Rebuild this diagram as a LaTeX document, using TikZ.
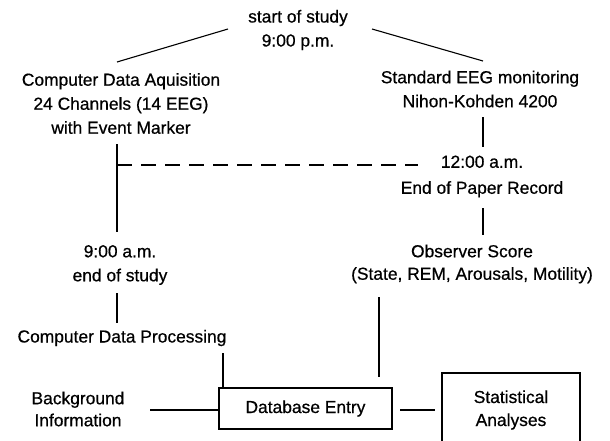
\documentclass[tikz,border=0pt]{standalone}
\usepackage{fontspec}
\setmainfont[BoldFont={Liberation Sans},BoldFeatures={FakeBold=0.6}]{Liberation Sans}
\begin{document}
\begin{tikzpicture}[x=1pt,y=-1pt,
  txt/.style={inner sep=0pt,align=center,font=\fontsize{17.4}{24}\selectfont\bfseries},
  ln/.style={line width=1.1pt},
  boxn/.style={draw,line width=1.1pt,inner sep=0pt}]
\useasboundingbox (0,0) rectangle (610,440);
\clip (0,0) rectangle (610,440);
\node[txt] (start) at (298,30) {start of study\\9:00 p.m.};
\node[txt] (cda) at (121,103.5) {Computer Data Aquisition\\24 Channels (14 EEG)\\with Event Marker};
\node[txt] (eeg) at (480,89) {Standard EEG monitoring\\Nihon-Kohden 4200};
\node[txt,font=\fontsize{17.4}{26}\selectfont\bfseries] (mid) at (482,176.5) {12:00 a.m.\\End of Paper Record};
\node[txt] (endst) at (120,265) {9:00 a.m.\\end of study};
\node[txt,font=\fontsize{17.4}{22.5}\selectfont\bfseries] (obs) at (472,264) {Observer Score\\(State, REM, Arousals, Motility)};
\node[txt] (cdp) at (122,338) {Computer Data Processing};
\node[txt,font=\fontsize{17.4}{22}\selectfont\bfseries] (bg) at (78,409) {Background\\Information};
\node[boxn,minimum width=173pt,minimum height=41pt,txt] (db) at (305.5,408.5) {Database Entry};
\node[boxn,minimum width=138pt,minimum height=74pt,txt,font=\fontsize{17.4}{23}\selectfont\bfseries] (st) at (511,410) {Statistical\\Analyses};
% connectors
\coordinate (sl) at (228,29);
\coordinate (cl) at (117,62);
\coordinate (sr) at (372,29);
\coordinate (cr) at (483,61);
\draw[ln] (sl) -- (cl);
\draw[ln] (sr) -- (cr);
\coordinate (a1) at (117,144);
\coordinate (a2) at (117,232);
\draw[ln] (a1) -- (a2);
\coordinate (d1) at (117,165);
\coordinate (d2) at (418,165);
\draw[ln,dash pattern=on 15pt off 9pt] (d1) -- (d2);
\coordinate (b1) at (483,117);
\coordinate (b2) at (483,147);
\draw[ln] (b1) -- (b2);
\coordinate (b3) at (483,208);
\coordinate (b4) at (483,235);
\draw[ln] (b3) -- (b4);
\coordinate (e1) at (117,293);
\coordinate (e2) at (117,323);
\draw[ln] (e1) -- (e2);
\coordinate (f1) at (223,353);
\draw[ln] (f1) -- (f1 |- db.north);
\coordinate (g1) at (379,297);
\coordinate (g2) at (379,377);
\draw[ln] (g1) -- (g2);
\coordinate (h1) at (150,410);
\draw[ln] (h1) -- (db.west |- h1);
\coordinate (k1) at (400,410);
\coordinate (k2) at (435,410);
\draw[ln] (k1) -- (k2);
\end{tikzpicture}
\end{document}
